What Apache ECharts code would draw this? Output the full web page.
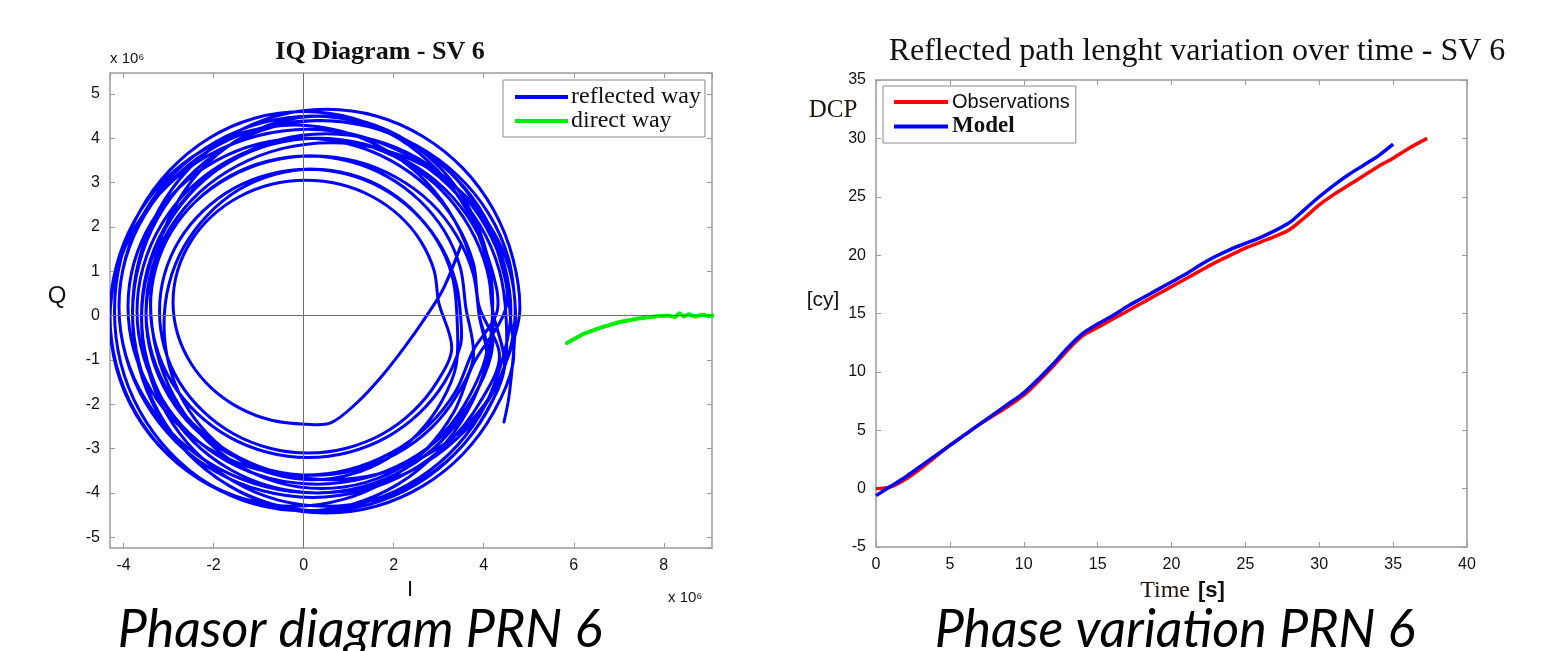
<!DOCTYPE html>
<html>
<head>
<meta charset="utf-8">
<script src="https://cdn.jsdelivr.net/npm/echarts@6/dist/echarts.min.js"></script>
<style>
html,body{margin:0;padding:0;background:#fff;}
#chart{width:1556px;height:651px;}
</style>
</head>
<body>
<div id="chart"></div>
<script>
// ---------- Left panel: IQ diagram (units of 1e6) ----------
const iqTicksI = [-4, -2, 0, 2, 4, 6, 8];
const iqTicksQ = [-5, -4, -3, -2, -1, 0, 1, 2, 3, 4, 5];
// reflected way: [I, Q] samples (one trajectory winding many times)
const reflectedWay = [
  [4.45,-2.4],[4.55,-1.9],[4.62,-1.3],[4.68,-0.6],
  [4.7,0.2],[4.55,1.29],[4.11,2.3],[3.41,3.17],[2.5,3.84],[1.44,4.26],[0.3,4.4],[-0.84,4.26],[-1.9,3.84],[-2.81,3.17],[-3.51,2.3],[-3.95,1.29],
  [-4.1,0.2],[-3.95,-0.89],[-3.51,-1.9],[-2.81,-2.77],[-1.9,-3.44],[-0.84,-3.86],[0.3,-4.0],[1.44,-3.86],[2.5,-3.44],[3.41,-2.77],[4.11,-1.9],[4.55,-0.89],
  [4.7,0.1],[4.56,1.08],[4.15,2.0],[3.5,2.79],[2.65,3.39],[1.66,3.77],[0.6,3.9],[-0.46,3.77],[-1.45,3.39],[-2.3,2.79],[-2.95,2.0],[-3.36,1.08],
  [-3.5,0.1],[-3.36,-0.88],[-2.95,-1.8],[-2.3,-2.59],[-1.45,-3.19],[-0.46,-3.57],[0.6,-3.7],[1.66,-3.57],[2.65,-3.19],[3.5,-2.59],[4.15,-1.8],[4.56,-0.88],
  [4.8,0.1],[4.65,1.28],[4.22,2.38],[3.54,3.32],[2.65,4.04],[1.61,4.5],[0.5,4.65],[-0.61,4.5],[-1.65,4.04],[-2.54,3.32],[-3.22,2.38],[-3.65,1.28],
  [-3.8,0.1],[-3.65,-1.08],[-3.22,-2.18],[-2.54,-3.12],[-1.65,-3.84],[-0.61,-4.3],[0.5,-4.45],[1.61,-4.3],[2.65,-3.84],[3.54,-3.12],[4.22,-2.18],[4.65,-1.08],
  [4.6,-0.1],[4.46,0.99],[4.05,2.0],[3.4,2.87],[2.55,3.54],[1.56,3.96],[0.5,4.1],[-0.56,3.96],[-1.55,3.54],[-2.4,2.87],[-3.05,2.0],[-3.46,0.99],
  [-3.6,-0.1],[-3.46,-1.19],[-3.05,-2.2],[-2.4,-3.07],[-1.55,-3.74],[-0.56,-4.16],[0.5,-4.3],[1.56,-4.16],[2.55,-3.74],[3.4,-3.07],[4.05,-2.2],[4.46,-1.19],
  [4.5,-0.1],[4.35,1.01],[3.91,2.05],[3.21,2.94],[2.3,3.62],[1.24,4.05],[0.1,4.2],[-1.04,4.05],[-2.1,3.62],[-3.01,2.94],[-3.71,2.05],[-4.15,1.01],
  [-4.3,-0.1],[-4.15,-1.21],[-3.71,-2.25],[-3.01,-3.14],[-2.1,-3.82],[-1.04,-4.25],[0.1,-4.4],[1.24,-4.25],[2.3,-3.82],[3.21,-3.14],[3.91,-2.25],[4.35,-1.21],
  [4.6,0.0],[4.46,1.14],[4.04,2.2],[3.37,3.11],[2.5,3.81],[1.49,4.25],[0.4,4.4],[-0.69,4.25],[-1.7,3.81],[-2.57,3.11],[-3.24,2.2],[-3.66,1.14],
  [-3.8,0.0],[-3.66,-1.14],[-3.24,-2.2],[-2.57,-3.11],[-1.7,-3.81],[-0.69,-4.25],[0.4,-4.4],[1.49,-4.25],[2.5,-3.81],[3.37,-3.11],[4.04,-2.2],[4.46,-1.14],
  [4.2,0.1],[4.06,1.27],[3.64,2.35],[2.97,3.28],[2.1,4.0],[1.09,4.45],[0.0,4.6],[-1.09,4.45],[-2.1,4.0],[-2.97,3.28],[-3.64,2.35],[-4.06,1.27],
  [-4.2,0.1],[-4.06,-1.07],[-3.64,-2.15],[-2.97,-3.08],[-2.1,-3.8],[-1.09,-4.25],[0.0,-4.4],[1.09,-4.25],[2.1,-3.8],[2.97,-3.08],[3.64,-2.15],[4.06,-1.07],
  [4.2,0.3],[4.07,1.39],[3.69,2.4],[3.09,3.27],[2.3,3.94],[1.38,4.36],[0.4,4.5],[-0.58,4.36],[-1.5,3.94],[-2.29,3.27],[-2.89,2.4],[-3.27,1.39],
  [-3.4,0.3],[-3.27,-0.79],[-2.89,-1.8],[-2.29,-2.67],[-1.5,-3.34],[-0.58,-3.76],[0.4,-3.9],[1.38,-3.76],[2.3,-3.34],[3.09,-2.67],[3.69,-1.8],[4.07,-0.79],
  [3.9,0.0],[3.76,1.11],[3.35,2.15],[2.7,3.04],[1.85,3.72],[0.86,4.15],[-0.2,4.3],[-1.26,4.15],[-2.25,3.72],[-3.1,3.04],[-3.75,2.15],[-4.16,1.11],
  [-4.3,0.0],[-4.16,-1.11],[-3.75,-2.15],[-3.1,-3.04],[-2.25,-3.72],[-1.26,-4.15],[-0.2,-4.3],[0.86,-4.15],[1.85,-3.72],[2.7,-3.04],[3.35,-2.15],[3.76,-1.11],
  [4.5,0.2],[4.35,1.31],[3.92,2.35],[3.24,3.24],[2.35,3.92],[1.31,4.35],[0.2,4.5],[-0.91,4.35],[-1.95,3.92],[-2.84,3.24],[-3.52,2.35],[-3.95,1.31],
  [-4.1,0.2],[-3.95,-0.91],[-3.52,-1.95],[-2.84,-2.84],[-1.95,-3.52],[-0.91,-3.95],[0.2,-4.1],[1.31,-3.95],[2.35,-3.52],[3.24,-2.84],[3.92,-1.95],[4.35,-0.91],
  [3.9,0.2],[3.77,1.18],[3.38,2.1],[2.76,2.89],[1.95,3.49],[1.01,3.87],[0.0,4.0],[-1.01,3.87],[-1.95,3.49],[-2.76,2.89],[-3.38,2.1],[-3.77,1.18],
  [-3.9,0.2],[-3.77,-0.78],[-3.38,-1.7],[-2.76,-2.49],[-1.95,-3.09],[-1.01,-3.47],[0.0,-3.6],[1.01,-3.47],[1.95,-3.09],[2.76,-2.49],[3.38,-1.7],[3.77,-0.78],
  [4.3,0.1],[4.16,1.11],[3.76,2.05],[3.13,2.86],[2.3,3.48],[1.34,3.87],[0.3,4.0],[-0.74,3.87],[-1.7,3.48],[-2.53,2.86],[-3.16,2.05],[-3.56,1.11],
  [-3.7,0.1],[-3.56,-0.91],[-3.16,-1.85],[-2.53,-2.66],[-1.7,-3.28],[-0.74,-3.67],[0.3,-3.8],[1.34,-3.67],[2.3,-3.28],[3.13,-2.66],[3.76,-1.85],[4.16,-0.91],
  [4.2,0.0],[4.07,1.04],[3.68,2.0],[3.06,2.83],[2.25,3.46],[1.31,3.86],[0.3,4.0],[-0.71,3.86],[-1.65,3.46],[-2.46,2.83],[-3.08,2.0],[-3.47,1.04],
  [-3.6,0.0],[-3.47,-1.04],[-3.08,-2.0],[-2.46,-2.83],[-1.65,-3.46],[-0.71,-3.86],[0.3,-4.0],[1.31,-3.86],[2.25,-3.46],[3.06,-2.83],[3.68,-2.0],[4.07,-1.04],
  [3.9,0.0],[3.77,0.93],[3.4,1.8],[2.82,2.55],[2.05,3.12],[1.16,3.48],[0.2,3.6],[-0.76,3.48],[-1.65,3.12],[-2.42,2.55],[-3.0,1.8],[-3.37,0.93],
  [-3.5,0.0],[-3.37,-0.93],[-3.0,-1.8],[-2.42,-2.55],[-1.65,-3.12],[-0.76,-3.48],[0.2,-3.6],[1.16,-3.48],[2.05,-3.12],[2.82,-2.55],[3.4,-1.8],[3.77,-0.93],
  [3.6,0.2],[3.48,1.08],[3.13,1.9],[2.57,2.6],[1.85,3.14],[1.01,3.48],[0.1,3.6],[-0.81,3.48],[-1.65,3.14],[-2.37,2.6],[-2.93,1.9],[-3.28,1.08],
  [-3.4,0.2],[-3.28,-0.68],[-2.93,-1.5],[-2.37,-2.2],[-1.65,-2.74],[-0.81,-3.08],[0.1,-3.2],[1.01,-3.08],[1.85,-2.74],[2.57,-2.2],[3.13,-1.5],[3.48,-0.68],
  [3.5,-0.2],[3.39,0.71],[3.06,1.55],[2.53,2.27],[1.85,2.83],[1.05,3.18],[0.2,3.3],[-0.65,3.18],[-1.45,2.83],[-2.13,2.27],[-2.66,1.55],[-2.99,0.71],
  [-3.1,-0.2],[-2.99,-1.11],[-2.66,-1.95],[-2.13,-2.67],[-1.45,-3.23],[-0.65,-3.58],[0.2,-3.7],[1.05,-3.58],[1.85,-3.23],[2.53,-2.67],[3.06,-1.95],[3.39,-1.11],
  [3.4,0.1],[3.29,0.93],[2.96,1.7],[2.43,2.36],[1.75,2.87],[0.95,3.19],[0.1,3.3],[-0.75,3.19],[-1.55,2.87],[-2.23,2.36],[-2.76,1.7],[-3.09,0.93],
  [-3.2,0.1],[-3.09,-0.73],[-2.76,-1.5],[-2.23,-2.16],[-1.55,-2.67],[-0.75,-2.99],[0.1,-3.1],[0.95,-2.99],[1.75,-2.67],[2.43,-2.16],[2.96,-1.5],[3.29,-0.73],
  [3.0,0.3],[2.9,1.01],[2.6,1.68],[2.14,2.24],[1.53,2.68],[0.81,2.96],[0.05,3.05],[-0.71,2.96],[-1.43,2.68],[-2.04,2.24],[-2.5,1.68],[-2.8,1.01],
  [-2.9,0.3],[-2.8,-0.41],[-2.5,-1.08],[-2.04,-1.64],[-1.43,-2.08],[-0.71,-2.36],[0.05,-2.45],
  [0.6,-2.42],[1.2,-1.95],[1.75,-1.35],[2.25,-0.7],[2.7,-0.05],[3.1,0.6],[3.5,1.6]
];
// direct way: [I, Q]
const directWay = [
  [5.85,-0.62],[6.2,-0.42],[6.6,-0.27],[7.0,-0.15],[7.4,-0.07],[7.8,-0.02],[8.1,0.0],
  [8.25,-0.03],[8.35,0.05],[8.45,-0.02],[8.55,0.03],[8.7,-0.02],[8.85,0.02],[9.0,-0.01],[9.2,0.01]
];

// ---------- Right panel: phase variation ----------
const timeTicks = [0, 5, 10, 15, 20, 25, 30, 35, 40];
const dcpTicks = [-5, 0, 5, 10, 15, 20, 25, 30, 35];
const obsTime = [0,1,2,3,4,5,6,7,8,9,10,11,12,13,14,15,16,17,18,19,20,21,22,23,24,25,26,27,28,29,30,31,32,33,34,35,36,37,37.3];
const obsValues = [0.0,0.15,0.8,1.7,2.7,3.7,4.6,5.5,6.3,7.1,8.0,9.2,10.5,11.9,13.1,13.8,14.5,15.2,15.9,16.6,17.3,18.0,18.7,19.4,20.0,20.6,21.1,21.6,22.2,23.2,24.3,25.2,26.0,26.8,27.6,28.3,29.1,29.8,30.0];
const modelTime = [0,1,2,3,4,5,6,7,8,9,10,11,12,13,14,15,16,17,18,19,20,21,22,23,24,25,26,27,28,29,30,31,32,33,34,35];
const modelValues = [-0.6,0.2,1.0,1.9,2.8,3.7,4.6,5.5,6.4,7.3,8.2,9.4,10.7,12.1,13.3,14.1,14.8,15.6,16.3,17.0,17.7,18.4,19.2,19.9,20.5,21.0,21.5,22.1,22.8,23.9,25.0,26.0,26.9,27.7,28.5,29.5];

const chart = echarts.init(document.getElementById('chart'));

const frameColor = '#9a9a9a';
const labelFont = { color: '#111', fontFamily: 'Liberation Sans, Arial, sans-serif', fontSize: 16 };

function frameAxis(pos, gridIndex, min, max, step, ticks, showLabels, edgeLabels, extra) {
  return Object.assign({
    type: 'value', gridIndex: gridIndex, position: pos, min: min, max: max,
    minInterval: step, maxInterval: step,
    axisLine: { show: true, onZero: false, lineStyle: { color: frameColor, width: 1.5 } },
    axisTick: { show: true, inside: true, length: 5, lineStyle: { color: frameColor, width: 1 } },
    splitLine: { show: false },
    axisLabel: Object.assign({ show: showLabels, showMinLabel: edgeLabels, showMaxLabel: edgeLabels, margin: 10,
      formatter: v => (ticks.indexOf(v) >= 0 ? String(v) : '') }, labelFont)
  }, extra || {});
}
const fixed5 = { interval: 5, minInterval: null, maxInterval: null };

// the reflected trajectory is drawn as one smooth path through the data points, mapped by the axes
function renderReflected(params, api) {
  if (params.dataIndex !== 0) return null;
  const pts = reflectedWay.map(p => api.coord(p));
  return {
    type: 'polyline',
    shape: { points: pts, smooth: 0.33 },
    style: { stroke: '#0000ff', lineWidth: 3, fill: null, lineJoin: 'round', lineCap: 'round' },
    silent: true
  };
}

const option = {
  animation: false,
  backgroundColor: '#ffffff',
  grid: [
    { left: 110, top: 73, width: 602, height: 475, show: false },
    { left: 876, top: 80, width: 591, height: 467, show: false }
  ],
  xAxis: [
    frameAxis('bottom', 0, -4.3, 9.07, 2, iqTicksI, true, false),
    frameAxis('top', 0, -4.3, 9.07, 2, iqTicksI, false, false),
    frameAxis('bottom', 1, 0, 40, 5, timeTicks, true, true, fixed5),
    frameAxis('top', 1, 0, 40, 5, timeTicks, false, true, fixed5)
  ],
  yAxis: [
    frameAxis('left', 0, -5.24, 5.47, 1, iqTicksQ, true, false),
    frameAxis('right', 0, -5.24, 5.47, 1, iqTicksQ, false, false),
    frameAxis('left', 1, -5, 35, 5, dcpTicks, true, true, fixed5),
    frameAxis('right', 1, -5, 35, 5, dcpTicks, false, true, fixed5)
  ],
  legend: [
    {
      data: ['reflected way', 'direct way'], orient: 'vertical', left: 503, top: 80,
      icon: 'rect', itemWidth: 53, itemHeight: 4, itemGap: 0,
      backgroundColor: '#fff', borderColor: '#8a8a8a', borderWidth: 1, padding: [5, 4, 4, 12],
      textStyle: { fontFamily: 'Liberation Serif, Times New Roman, serif', fontSize: 24, color: '#111', padding: [0, 0, 0, -2] }
    },
    {
      data: ['Observations', 'Model'], orient: 'vertical', left: 883, top: 86,
      icon: 'rect', itemWidth: 54, itemHeight: 4, itemGap: 3,
      backgroundColor: '#fff', borderColor: '#8a8a8a', borderWidth: 1, padding: [6, 6, 5, 11],
      formatter: n => n === 'Model' ? '{m|Model}' : '{o|Observations}',
      textStyle: {
        padding: [0, 0, 0, -1],
        rich: {
          o: { fontFamily: 'Liberation Sans, Arial, sans-serif', fontSize: 20, color: '#111' },
          m: { fontFamily: 'Liberation Serif, Times New Roman, serif', fontSize: 23, fontWeight: 'bold', color: '#111' }
        }
      }
    }
  ],
  series: [
    {
      name: 'reflected way', type: 'custom', xAxisIndex: 0, yAxisIndex: 0,
      data: reflectedWay, encode: { x: 0, y: 1 }, clip: true,
      renderItem: renderReflected,
      itemStyle: { color: '#0000ff' }
    },
    {
      name: 'direct way', type: 'line', xAxisIndex: 0, yAxisIndex: 0,
      data: directWay, showSymbol: false, symbol: 'none', smooth: false, clip: true,
      lineStyle: { color: '#00ee00', width: 4, join: 'round', cap: 'round' }, itemStyle: { color: '#00ee00' },
      markLine: {
        silent: true, symbol: ['none', 'none'], label: { show: false },
        lineStyle: { color: '#6e6e6e', width: 1, type: 'solid' },
        data: [{ xAxis: 0 }, { yAxis: 0 }]
      }
    },
    {
      name: 'Observations', type: 'line', xAxisIndex: 2, yAxisIndex: 2,
      data: obsTime.map((t, i) => [t, obsValues[i]]), showSymbol: false, symbol: 'none', smooth: 0.3,
      lineStyle: { color: '#ff0000', width: 3.5 }, itemStyle: { color: '#ff0000' }
    },
    {
      name: 'Model', type: 'line', xAxisIndex: 2, yAxisIndex: 2,
      data: modelTime.map((t, i) => [t, modelValues[i]]), showSymbol: false, symbol: 'none', smooth: 0.3,
      lineStyle: { color: '#0000ff', width: 3.5 }, itemStyle: { color: '#0000ff' }
    }
  ],
  graphic: [
    { type: 'text', x: 380, y: 52, style: { text: 'IQ Diagram - SV 6', font: 'bold 26px "Liberation Serif", serif', fill: '#111', textAlign: 'center', textVerticalAlign: 'middle' } },
    { type: 'text', x: 110, y: 59, style: { text: 'x 10⁶', font: '15px "Liberation Sans", sans-serif', fill: '#111', textAlign: 'left', textVerticalAlign: 'middle' } },
    { type: 'text', x: 57, y: 296, style: { text: 'Q', font: '24px "Liberation Sans", sans-serif', fill: '#111', textAlign: 'center', textVerticalAlign: 'middle' } },
    { type: 'text', x: 410, y: 590, style: { text: 'I', font: '22px "Liberation Sans", sans-serif', fill: '#111', textAlign: 'center', textVerticalAlign: 'middle' } },
    { type: 'text', x: 668, y: 598, style: { text: 'x 10⁶', font: '15px "Liberation Sans", sans-serif', fill: '#111', textAlign: 'left', textVerticalAlign: 'middle' } },
    { type: 'text', x: 360, y: 630, style: { text: 'Phasor diagram PRN 6', font: 'italic 52px Lato, "Open Sans", sans-serif', fill: '#000', textAlign: 'center', textVerticalAlign: 'middle' } },

    { type: 'text', x: 1197, y: 52, style: { text: 'Reflected path lenght variation over time - SV 6', font: '32px "Liberation Serif", serif', fill: '#111', textAlign: 'center', textVerticalAlign: 'middle' } },
    { type: 'text', x: 833, y: 110, style: { text: 'DCP', font: '25px "Liberation Serif", serif', fill: '#221408', textAlign: 'center', textVerticalAlign: 'middle' } },
    { type: 'text', x: 823, y: 300, style: { text: '[cy]', font: '21px "Liberation Sans", sans-serif', fill: '#111', textAlign: 'center', textVerticalAlign: 'middle' } },
    { type: 'text', x: 1190, y: 591, style: { text: 'Time', font: '24px "Liberation Serif", serif', fill: '#221408', textAlign: 'right', textVerticalAlign: 'middle' } },
    { type: 'text', x: 1198, y: 591, style: { text: '[s]', font: 'bold 22px "Liberation Sans", sans-serif', fill: '#111', textAlign: 'left', textVerticalAlign: 'middle' } },
    { type: 'text', x: 1175, y: 630, style: { text: 'Phase variation PRN 6', font: 'italic 52px Lato, "Open Sans", sans-serif', fill: '#000', textAlign: 'center', textVerticalAlign: 'middle' } }
  ]
};
chart.setOption(option);
</script>
</body>
</html>
